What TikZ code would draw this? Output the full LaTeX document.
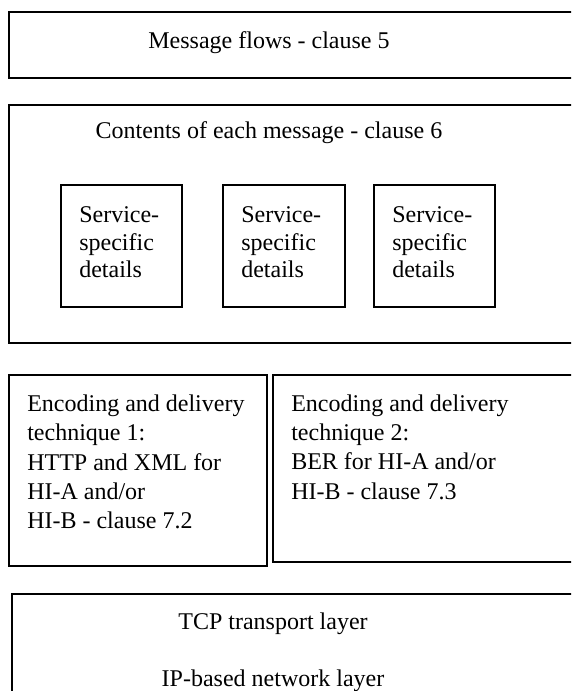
\documentclass[tikz,border=0pt]{standalone}
\usepackage{fontspec}
\setmainfont{Liberation Serif}
\usetikzlibrary{positioning}
\tikzset{
  layer/.style={draw=black, line width=1.1pt},
  detail/.style={draw=black, line width=0.9pt},
  txt/.style={inner sep=0pt, font=\fontsize{18}{22}\selectfont},
  para/.style={txt, align=left, anchor=west},
}

\begin{document}
\begin{tikzpicture}[x=0.75pt, y=-0.75pt]
    \useasboundingbox (0,0) rectangle (571,691);
    \clip (0,0) rectangle (571,691);

    % Message flows
    \draw[layer] (9,12) rectangle (600,78);
    \node[txt] (flows) at (269,43) {Message flows - clause 5};

    % Contents of each message
    \draw[layer] (9,105) rectangle (600,343);
    \node[txt] (contents) at (269,133) {Contents of each message - clause 6};
    \foreach \xa/\xb/\n in {61/182/a, 223/345/b, 374/495/c} {
        \draw[detail] (\xa,185) rectangle (\xb,307);
        \node[para, font=\fontsize{18}{20.6}\selectfont] (svc\n) at (\xa+18,242.5) {Service-\\specific\\details};
    }

    % Encoding and delivery techniques
    \draw[layer] (9,375) rectangle (267,566);
    \node[para] (enc1) at (27,462) {Encoding and delivery\\technique 1:\\HTTP and XML for\\HI-A and/or\\HI-B - clause 7.2};
    \draw[layer] (273,375) rectangle (600,562);
    \node[para] (enc2) at (291,447) {Encoding and delivery\\technique 2:\\BER for HI-A and/or\\HI-B - clause 7.3};

    % Transport and network
    \draw[layer] (12,594) rectangle (600,720);
    \node[txt] (tcp) at (273,624) {TCP transport layer};
    \node[txt] (ip) at (273,681) {IP-based network layer};
\end{tikzpicture}
\end{document}
